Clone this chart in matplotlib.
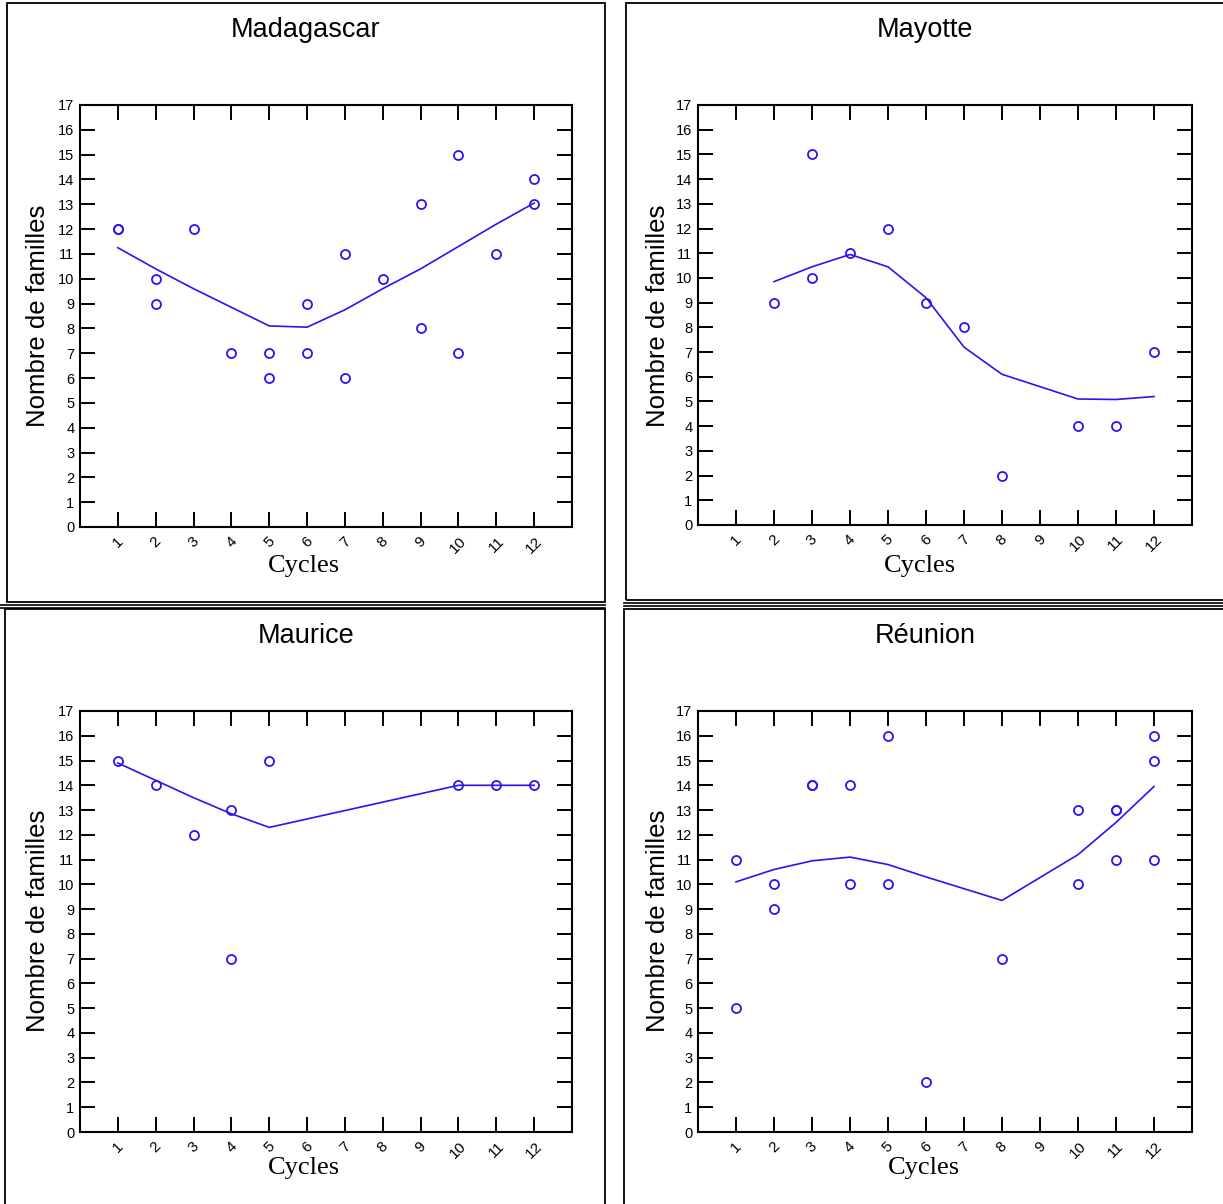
import matplotlib
matplotlib.use("Agg")
import matplotlib.pyplot as plt
from matplotlib.lines import Line2D
from matplotlib.patches import Rectangle

W, H = 1223, 1204

# ---------------- data ----------------
cycles = list(range(1, 13))
cycle_labels = [str(c) for c in cycles]
y_ticks = list(range(0, 18))

mada_x = [1, 1, 2, 2, 3, 4, 5, 5, 6, 6, 7, 7, 8, 9, 9, 10, 10, 11, 12, 12]
mada_y = [12, 12, 10, 9, 12, 7, 7, 6, 9, 7, 11, 6, 10, 13, 8, 15, 7, 11, 14, 13]
mada_fit_x = [1, 2, 3, 4, 5, 6, 7, 8, 9, 10, 11, 12]
mada_fit_y = [11.25, 10.4, 9.6, 8.85, 8.1, 8.05, 8.75, 9.6, 10.4, 11.3, 12.2, 13.05]

may_x = [2, 3, 3, 4, 5, 6, 7, 8, 10, 11, 12]
may_y = [9, 15, 10, 11, 12, 9, 8, 2, 4, 4, 7]
may_fit_x = [2, 3, 4, 5, 6, 7, 8, 9, 10, 11, 12]
may_fit_y = [9.85, 10.45, 10.95, 10.45, 9.2, 7.2, 6.1, 5.6, 5.1, 5.08, 5.2]

mau_x = [1, 2, 3, 4, 4, 5, 10, 11, 12]
mau_y = [15, 14, 12, 13, 7, 15, 14, 14, 14]
mau_fit_x = [1, 2, 3, 4, 5, 10, 11, 12]
mau_fit_y = [14.9, 14.2, 13.5, 12.85, 12.3, 14.0, 14.0, 14.0]

reu_x = [1, 1, 2, 2, 3, 3, 4, 4, 5, 5, 6, 8, 10, 10, 11, 11, 11, 12, 12, 12]
reu_y = [11, 5, 10, 9, 14, 14, 14, 10, 16, 10, 2, 7, 13, 10, 13, 13, 11, 16, 15, 11]
reu_fit_x = [1, 2, 3, 4, 5, 6, 8, 10, 11, 12]
reu_fit_y = [10.1, 10.6, 10.95, 11.1, 10.8, 10.3, 9.35, 11.2, 12.5, 13.95]

titles = ["Madagascar", "Mayotte", "Maurice", "Réunion"]
ylabel = "Nombre de familles"
xlabel = "Cycles"

panels = [
    (titles[0], mada_x, mada_y, mada_fit_x, mada_fit_y),
    (titles[1], may_x, may_y, may_fit_x, may_fit_y),
    (titles[2], mau_x, mau_y, mau_fit_x, mau_fit_y),
    (titles[3], reu_x, reu_y, reu_fit_x, reu_fit_y),
]

# ---------------- layout (pixels) ----------------
boxes = [(80, 572, 105, 527), (698, 1192, 105, 525),
         (80, 572, 711, 1132), (698, 1192, 711, 1132)]
title_pos = [(306, 30), (925, 30), (306, 636), (925, 636)]
ylab_pos = [(38, 316), (658, 316), (38, 921), (658, 921)]
xlab_pos = [(304, 566), (920, 566), (304, 1168), (924, 1168)]
frames = [(7, 605, 3, 602), (626, 1240, 3, 600), (5, 605, 609, 1210), (624, 1240, 609, 1210)]

blue = "#2a14f0"

fig = plt.figure(figsize=(W / 100, H / 100), dpi=100)
fig.patch.set_facecolor("white")


def fx(px):
    return px / W


def fy(py):
    return 1 - py / H


for (l, r, t, b) in frames:
    fig.add_artist(Rectangle((fx(l), fy(b)), fx(r) - fx(l), fy(t) - fy(b),
                             transform=fig.transFigure, fill=False,
                             edgecolor="black", linewidth=1.3))
for yy in (604.5, 607.5):
    fig.add_artist(Line2D([fx(0), fx(605)], [fy(yy), fy(yy)], transform=fig.transFigure,
                          color="black", linewidth=1.2))
for yy in (602.5, 605.5):
    fig.add_artist(Line2D([fx(624), fx(1223)], [fy(yy), fy(yy)], transform=fig.transFigure,
                          color="black", linewidth=1.2))

for i, (title, px, py, fxs, fys) in enumerate(panels):
    l, r, t, b = boxes[i]
    ax = fig.add_axes([fx(l), fy(b), fx(r) - fx(l), fy(t) - fy(b)])
    ax.plot(fxs, fys, color=blue, linewidth=1.2)
    ax.plot(px, py, linestyle="none", marker="o", markersize=6.5,
            markerfacecolor="none", markeredgecolor=blue, markeredgewidth=1.3)
    ax.set_xlim(0, 13)
    ax.set_ylim(0, 17)
    ax.set_xticks(cycles)
    ax.set_xticklabels(cycle_labels, rotation=45, ha="center", va="top",
                       fontsize=11, family="Liberation Sans")
    ax.set_yticks(y_ticks)
    ax.set_yticklabels([str(v) for v in y_ticks], fontsize=10.5, family="Liberation Sans")
    ax.tick_params(axis="x", direction="in", length=11, width=1.4, top=True,
                   bottom=True, pad=5)
    ax.tick_params(axis="y", direction="in", length=11, width=1.4, left=True,
                   right=True, pad=4)
    for s in ax.spines.values():
        s.set_linewidth(1.5)
        s.set_color("black")

    tx, ty = title_pos[i]
    fig.text(fx(tx), fy(ty), title, ha="center", va="center", fontsize=19.5,
             family="Liberation Sans")
    yx, yy = ylab_pos[i]
    fig.text(fx(yx), fy(yy), ylabel, ha="center", va="center", rotation=90,
             fontsize=18.5, family="Liberation Sans")
    xx, xy = xlab_pos[i]
    fig.text(fx(xx), fy(xy), xlabel, ha="center", va="center", fontsize=19,
             family="Liberation Serif")

fig.savefig("out.png", dpi=100, facecolor="white")
